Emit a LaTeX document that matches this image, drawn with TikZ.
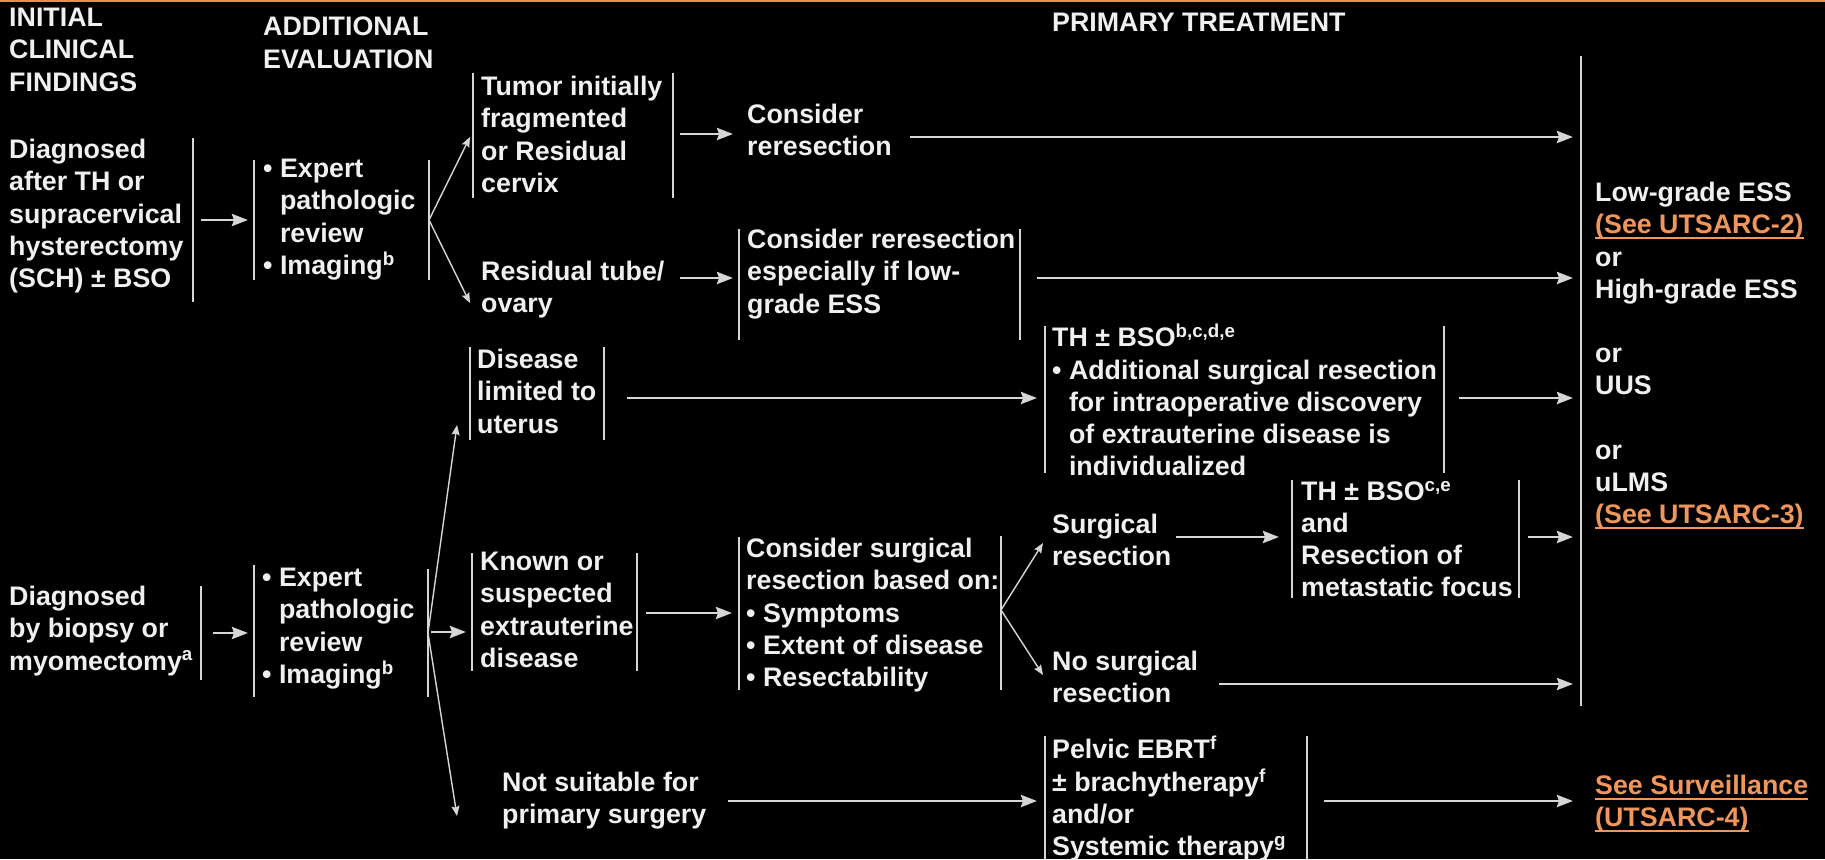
\documentclass[tikz,border=0pt]{standalone}
\usepackage{fontspec}
\setmainfont{Liberation Sans}
\usepackage{tikz}
\usetikzlibrary{arrows.meta}

\definecolor{txtgray}{RGB}{240,240,240}
\definecolor{bargray}{RGB}{214,214,214}
\definecolor{linkor}{RGB}{240,150,90}
\definecolor{topor}{RGB}{245,135,80}

\newcommand{\seelink}[1]{{\color{linkor}\setbox0=\hbox{#1}\rlap{\rule[-5pt]{\wd0}{2pt}}\box0}}
\newcommand{\bul}{\textbullet\ }
\newcommand{\ind}{\hphantom{\textbullet\ }}

\begin{document}
\begin{tikzpicture}[x=1pt,y=-1pt,
  txt/.style={anchor=north west,yshift=19pt,inner sep=0pt,align=left,text=txtgray,
    font=\fontsize{26.8}{32.2}\selectfont\bfseries,
    execute at begin node={\rule{0pt}{25pt}}},
  bar/.style={bargray,line width=2.2pt},
  arr/.style={-{Stealth[length=16pt,width=12pt,inset=2pt]},bargray,line width=2.8pt},
  farr/.style={-{Stealth[length=10pt,width=8pt,inset=1.5pt]},bargray,line width=1.4pt}]
  \useasboundingbox (0,0) rectangle (1825,859);
  \fill[black] (0,0) rectangle (1825,859);
  \draw[topor,line width=2pt] (0,1) -- (1825,1);

  % column heads
  \node[txt] (hInit) at (9,27) {INITIAL\\CLINICAL\\FINDINGS};
  \node[txt] (hEval) at (263,36) {ADDITIONAL\\EVALUATION};
  \node[txt] (hPrim) at (1052,25) {PRIMARY TREATMENT};

  % diagnosed after TH or SCH
  \node[txt] (dxTH) at (9,158) {Diagnosed\\after TH or\\supracervical\\hysterectomy\\(SCH) ± BSO};
  \draw[bar] (193,138) -- (193,302);
  \node[txt] (evTH) at (263,178) {\bul Expert\\\ind pathologic\\\ind review\\\bul Imaging\textsuperscript{b}};
  \draw[bar] (254,160) -- (254,280);
  \draw[bar] (429,160) -- (429,280);
  \coordinate (dxTHout) at (201,220);
  \coordinate (evTHin) at (248,220);
  \coordinate (evTHout) at (429,220);
  \draw[arr] (dxTHout) -- (evTHin);

  \node[txt] (tumor) at (481,95) {Tumor initially\\fragmented\\or Residual\\cervix};
  \draw[bar] (473,73) -- (473,198);
  \draw[bar] (673,73) -- (673,198);
  \node[txt] (reres) at (747,123) {Consider\\reresection};
  \node[txt] (resid) at (481,280) {Residual tube/\\ovary};
  \node[txt] (resLow) at (747,248) {Consider reresection\\especially if low-\\grade ESS};
  \draw[bar] (739,229) -- (739,340);
  \draw[bar] (1020,229) -- (1020,340);
  \coordinate (tumorIn) at (470,137);
  \coordinate (residIn) at (470,303);
  \draw[farr] (evTHout) -- (tumorIn);
  \draw[farr] (evTHout) -- (residIn);
  \coordinate (tumorOut) at (680,134);
  \coordinate (reresIn) at (733,134);
  \coordinate (reresOut) at (910,137);
  \coordinate (outA) at (1573,137);
  \draw[arr] (tumorOut) -- (reresIn);
  \draw[arr] (reresOut) -- (outA);
  \coordinate (residOut) at (680,278);
  \coordinate (resLowIn) at (733,278);
  \coordinate (resLowOut) at (1037,278);
  \coordinate (outB) at (1573,278);
  \draw[arr] (residOut) -- (resLowIn);
  \draw[arr] (resLowOut) -- (outB);

  % disease limited to uterus
  \node[txt] (dxLim) at (477,368) {Disease\\limited to\\uterus};
  \draw[bar] (470,347) -- (470,440);
  \draw[bar] (604,347) -- (604,440);
  \node[txt] (thBso) at (1052,343) {TH ± BSO\textsuperscript{b,c,d,e}\\\bul Additional surgical resection\\\ind for intraoperative discovery\\\ind of extrauterine disease is\\\ind individualized};
  \draw[bar] (1045,326) -- (1045,473);
  \draw[bar] (1444,326) -- (1444,473);
  \coordinate (dxLimOut) at (627,398);
  \coordinate (thBsoIn) at (1037,398);
  \coordinate (thBsoOut) at (1459,398);
  \coordinate (outC) at (1573,398);
  \draw[arr] (dxLimOut) -- (thBsoIn);
  \draw[arr] (thBsoOut) -- (outC);

  % outcomes
  \draw[bar] (1581,56) -- (1581,706);
  \node[txt] (outc) at (1595,201) {Low-grade ESS\\\seelink{(See UTSARC-2)}\\or\\High-grade ESS\\\mbox{}\\or\\UUS\\\mbox{}\\or\\uLMS\\\seelink{(See UTSARC-3)}};

  % diagnosed by biopsy or myomectomy
  \node[txt] (dxBx) at (9,605) {Diagnosed\\by biopsy or\\myomectomy\textsuperscript{a}};
  \draw[bar] (201,586) -- (201,680);
  \node[txt] (evBx) at (262,587) {\bul Expert\\\ind pathologic\\\ind review\\\bul Imaging\textsuperscript{b}};
  \draw[bar] (254,565) -- (254,697);
  \draw[bar] (428,569) -- (428,697);
  \coordinate (dxBxOut) at (213,633);
  \coordinate (evBxIn) at (248,633);
  \coordinate (evBxOut) at (428,633);
  \draw[arr] (dxBxOut) -- (evBxIn);
  \coordinate (dxLimIn) at (457,425);
  \coordinate (notSuitIn) at (457,816);
  \coordinate (extraIn) at (466,632);
  \draw[farr] (evBxOut) -- (dxLimIn);
  \draw[farr] (evBxOut) -- (notSuitIn);
  \draw[arr] (431,632) -- (extraIn);

  \node[txt] (extra) at (480,571) {Known or\\suspected\\extrauterine\\disease};
  \draw[bar] (472,553) -- (472,671);
  \draw[bar] (637,553) -- (637,671);
  \node[txt] (consSurg) at (746,557) {Consider surgical\\resection based on:\\\bul Symptoms\\\bul Extent of disease\\\bul Resectability};
  \draw[bar] (739,537) -- (739,690);
  \draw[bar] (1001,536) -- (1001,690);
  \coordinate (extraOut) at (646,613);
  \coordinate (consSurgIn) at (732,613);
  \coordinate (consSurgOut) at (1001,610);
  \draw[arr] (extraOut) -- (consSurgIn);

  \node[txt] (surg) at (1052,533) {Surgical\\resection};
  \node[txt] (noSurg) at (1052,670) {No surgical\\resection};
  \coordinate (surgIn) at (1043,543);
  \coordinate (noSurgIn) at (1043,675);
  \draw[farr] (consSurgOut) -- (surgIn);
  \draw[farr] (consSurgOut) -- (noSurgIn);

  \node[txt] (thMet) at (1301,500) {TH ± BSO\textsuperscript{c,e}\\and\\Resection of\\metastatic focus};
  \draw[bar] (1292,480) -- (1292,598);
  \draw[bar] (1519,480) -- (1519,598);
  \coordinate (surgOut) at (1176,537);
  \coordinate (thMetIn) at (1279,537);
  \coordinate (thMetOut) at (1528,537);
  \coordinate (outD) at (1573,537);
  \coordinate (noSurgOut) at (1219,684);
  \coordinate (outE) at (1573,684);
  \draw[arr] (surgOut) -- (thMetIn);
  \draw[arr] (thMetOut) -- (outD);
  \draw[arr] (noSurgOut) -- (outE);

  % not suitable for primary surgery
  \node[txt] (notSuit) at (502,791) {Not suitable for\\primary surgery};
  \node[txt] (pelvic) at (1052,755) {Pelvic EBRT\textsuperscript{f}\\± brachytherapy\textsuperscript{f}\\and/or\\Systemic therapy\textsuperscript{g}};
  \draw[bar] (1045,736) -- (1045,859);
  \draw[bar] (1307,736) -- (1307,859);
  \node[txt] (surv) at (1595,794) {\seelink{See Surveillance}\\\seelink{(UTSARC-4)}};
  \coordinate (notSuitOut) at (728,801);
  \coordinate (pelvicIn) at (1037,801);
  \coordinate (pelvicOut) at (1324,801);
  \coordinate (survIn) at (1573,801);
  \draw[arr] (notSuitOut) -- (pelvicIn);
  \draw[arr] (pelvicOut) -- (survIn);
\end{tikzpicture}
\end{document}
